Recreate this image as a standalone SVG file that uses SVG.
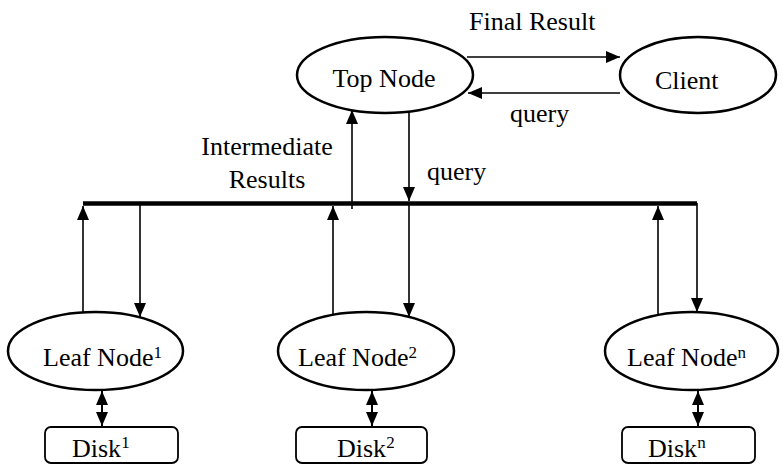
<svg xmlns="http://www.w3.org/2000/svg" width="783" height="465" viewBox="0 0 783 465">
<style>
text{font-family:"Liberation Serif","Times New Roman",serif;font-size:26px;fill:#000}
.sup{font-size:17px}
.node{fill:#fff;stroke:#000;stroke-width:2.5}
.disk{fill:#fff;stroke:#000;stroke-width:1.8}
.ln{stroke:#000;stroke-width:1.6;fill:none}
.dl{stroke:#000;stroke-width:2;fill:none}
.bus{stroke:#000;stroke-width:4.5;fill:none}
</style>
<defs>
<marker id="ah" viewBox="0 0 14 12" refX="14" refY="6" markerWidth="14" markerHeight="12" markerUnits="userSpaceOnUse" orient="auto-start-reverse"><path d="M0,0 L14,6 L0,12 z" fill="#000"/></marker>
</defs>
<g id="connectors">
<line class="bus" x1="83" y1="203.5" x2="697" y2="203.5"/>
<line class="ln" x1="467" y1="57" x2="620" y2="57" marker-end="url(#ah)"/>
<line class="ln" x1="620" y1="93" x2="468" y2="93" marker-end="url(#ah)"/>
<line class="ln" x1="352" y1="209" x2="352" y2="110" marker-end="url(#ah)"/>
<line class="ln" x1="409" y1="111" x2="409" y2="201" marker-end="url(#ah)"/>
<line class="ln" x1="83" y1="312" x2="83" y2="206" marker-end="url(#ah)"/>
<line class="ln" x1="140" y1="203" x2="140" y2="317" marker-end="url(#ah)"/>
<line class="ln" x1="333" y1="315" x2="333" y2="206" marker-end="url(#ah)"/>
<line class="ln" x1="409" y1="203" x2="409" y2="317" marker-end="url(#ah)"/>
<line class="ln" x1="658" y1="315" x2="658" y2="206" marker-end="url(#ah)"/>
<line class="ln" x1="697" y1="203" x2="697" y2="312" marker-end="url(#ah)"/>
<line class="dl" x1="102" y1="391" x2="102" y2="426" marker-start="url(#ah)" marker-end="url(#ah)"/>
<line class="dl" x1="372" y1="391" x2="372" y2="426" marker-start="url(#ah)" marker-end="url(#ah)"/>
<line class="dl" x1="698" y1="391" x2="698" y2="426" marker-start="url(#ah)" marker-end="url(#ah)"/>
</g>
<g id="labels">
<text x="469" y="30">Final Result</text>
<text x="510" y="122">query</text>
<text x="267" y="155" text-anchor="middle">Intermediate</text>
<text x="267" y="188" text-anchor="middle">Results</text>
<text x="427" y="180">query</text>
</g>
<g id="top-node">
<ellipse class="node" cx="385" cy="75" rx="88" ry="38"/>
<text x="384" y="87" text-anchor="middle">Top Node</text>
</g>
<g id="client">
<ellipse class="node" cx="698" cy="75" rx="78" ry="38"/>
<text x="655" y="89">Client</text>
</g>
<g id="leaf1">
<ellipse class="node" cx="95.5" cy="351" rx="87.5" ry="39"/>
<text x="43" y="366">Leaf Node<tspan class="sup" dy="-8">1</tspan></text>
</g>
<g id="leaf2">
<ellipse class="node" cx="366" cy="351" rx="88" ry="39"/>
<text x="298" y="366">Leaf Node<tspan class="sup" dy="-8">2</tspan></text>
</g>
<g id="leafn">
<ellipse class="node" cx="691.5" cy="351" rx="86.5" ry="39"/>
<text x="627" y="366">Leaf Node<tspan class="sup" dy="-8">n</tspan></text>
</g>
<g id="disk1">
<rect class="disk" x="45" y="427" width="133" height="36" rx="6"/>
<text x="72" y="457">Disk<tspan class="sup" dy="-9">1</tspan></text>
</g>
<g id="disk2">
<rect class="disk" x="296" y="427" width="131" height="36" rx="6"/>
<text x="337" y="457">Disk<tspan class="sup" dy="-9">2</tspan></text>
</g>
<g id="diskn">
<rect class="disk" x="622" y="427" width="133" height="36" rx="6"/>
<text x="648" y="457">Disk<tspan class="sup" dy="-9">n</tspan></text>
</g>
</svg>
